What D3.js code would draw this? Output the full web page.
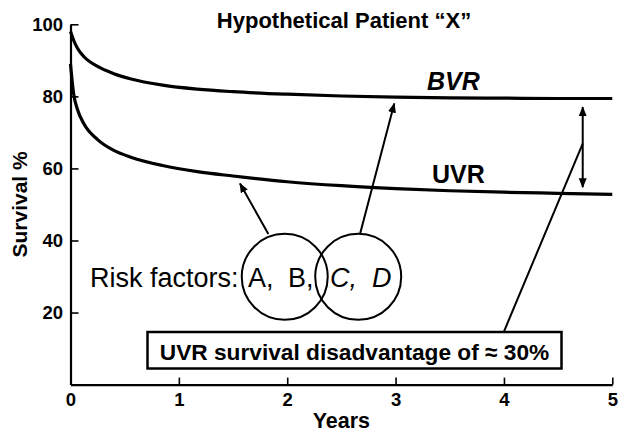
<!DOCTYPE html>
<html>
<head>
<meta charset="utf-8">
<script src="https://cdn.jsdelivr.net/npm/d3@7"></script>
<style>
  body { margin: 0; background: #fff; }
  svg { display: block; font-family: 'Liberation Sans', Arial, Helvetica, sans-serif; }
  .axis path, .axis line { stroke: #000; }
  .axis text { font-size: 18.5px; font-weight: bold; fill: #000; }
</style>
</head>
<body>
<div id="chart"></div>
<script>
// survival curves (years vs survival %)
const years = [0, 0.03, 0.063, 0.125, 0.25, 0.4, 0.55, 0.85, 1.17, 1.5, 2, 2.5, 3, 3.5, 4, 4.5, 5];
const bvr = [98, 95.5, 93.4, 91, 88.3, 86.3, 84.9, 83.1, 82, 81.3, 80.6, 80.1, 79.8, 79.6, 79.5, 79.4, 79.4];
const uvr = [89, 80.5, 76.5, 72.3, 68, 65, 63.2, 60.8, 59.1, 57.9, 56.3, 55.2, 54.4, 53.8, 53.4, 53.1, 52.8];

const xTicks = [0, 1, 2, 3, 4, 5];
const yTicks = [20, 40, 60, 80, 100];

const title = 'Hypothetical Patient \u201cX\u201d';
const xLabel = 'Years';
const yLabel = 'Survival %';
const boxLabel = 'UVR survival disadvantage of \u2248 30%';
const riskLabel = 'Risk factors:';
const riskA = ['A,', 'B,'];
const riskB = ['C,', 'D'];

const width = 619;
const height = 433;
const margin = { top: 24.3, right: 6.7, bottom: 48.4, left: 70.5 };

const svg = d3
  .select('#chart')
  .append('svg')
  .attr('width', width)
  .attr('height', height);

const x = d3
  .scaleLinear()
  .domain([0, 5])
  .range([margin.left, width - margin.right]);
const y = d3
  .scaleLinear()
  .domain([0, 100])
  .range([height - margin.bottom, margin.top]);

// arrow heads
const defs = svg.append('defs');
defs
  .append('marker')
  .attr('id', 'head')
  .attr('viewBox', '0 0 10 10')
  .attr('refX', 9)
  .attr('refY', 5)
  .attr('markerWidth', 10)
  .attr('markerHeight', 10)
  .attr('markerUnits', 'userSpaceOnUse')
  .attr('orient', 'auto-start-reverse')
  .append('path')
  .attr('d', 'M0,1 L10,5 L0,9 Z')
  .attr('fill', '#000');

// axes
const xAxis = svg
  .append('g')
  .attr('class', 'axis')
  .attr('transform', `translate(0,${y(0)})`)
  .call(
    d3.axisBottom(x)
      .tickValues(xTicks)
      .tickFormat(d3.format('d'))
      .tickSizeInner(-7)
      .tickSizeOuter(0)
      .tickPadding(8.5)
  );
xAxis.select('.domain').attr('stroke-width', 2.2);
xAxis.selectAll('.tick line').attr('stroke-width', 1.6);

const yAxis = svg
  .append('g')
  .attr('class', 'axis')
  .attr('transform', `translate(${x(0)},0)`)
  .call(
    d3.axisLeft(y)
      .tickValues(yTicks)
      .tickFormat(d3.format('d'))
      .tickSizeInner(-8)
      .tickSizeOuter(0)
      .tickPadding(7.5)
  );
yAxis.select('.domain').attr('stroke-width', 2.2);
yAxis.selectAll('.tick line').attr('stroke-width', 1.6);

// titles
svg
  .append('text')
  .attr('x', 344)
  .attr('y', 28)
  .attr('text-anchor', 'middle')
  .attr('font-size', 22)
  .attr('font-weight', 'bold')
  .text(title);

svg
  .append('text')
  .attr('x', (x(0) + x(5)) / 2)
  .attr('y', 428)
  .attr('text-anchor', 'middle')
  .attr('font-size', 21.5)
  .attr('font-weight', 'bold')
  .text(xLabel);

svg
  .append('text')
  .attr('transform', `translate(26.5,${(y(0) + y(100)) / 2}) rotate(-90)`)
  .attr('text-anchor', 'middle')
  .attr('font-size', 21)
  .attr('font-weight', 'bold')
  .text(yLabel);

// curves
const line = d3
  .line()
  .x((d, i) => x(years[i]))
  .y(d => y(d))
  .curve(d3.curveMonotoneX);

[bvr, uvr].forEach(series => {
  svg
    .append('path')
    .attr('d', line(series))
    .attr('fill', 'none')
    .attr('stroke', '#000')
    .attr('stroke-width', 3.2);
});

svg
  .append('text')
  .attr('x', 427)
  .attr('y', 90)
  .attr('font-size', 25)
  .attr('font-weight', 'bold')
  .attr('font-style', 'italic')
  .text('BVR');
svg
  .append('text')
  .attr('x', 432)
  .attr('y', 183)
  .attr('font-size', 25)
  .attr('font-weight', 'bold')
  .text('UVR');

// risk factor circles
const circles = [
  { cx: x(1.977), cy: y(29.9), r: 43 },
  { cx: x(2.655), cy: y(29.9), r: 43 }
];
svg
  .selectAll('circle.risk')
  .data(circles)
  .enter()
  .append('circle')
  .attr('class', 'risk')
  .attr('cx', d => d.cx)
  .attr('cy', d => d.cy)
  .attr('r', d => d.r)
  .attr('fill', 'none')
  .attr('stroke', '#000')
  .attr('stroke-width', 2);

const riskBase = 286.7;
svg
  .append('text')
  .attr('x', 90)
  .attr('y', riskBase)
  .attr('font-size', 27)
  .text(riskLabel);
svg
  .selectAll('text.ra')
  .data(riskA)
  .enter()
  .append('text')
  .attr('class', 'ra')
  .attr('x', (d, i) => [248, 288][i])
  .attr('y', riskBase)
  .attr('font-size', 27)
  .text(d => d);
svg
  .selectAll('text.rb')
  .data(riskB)
  .enter()
  .append('text')
  .attr('class', 'rb')
  .attr('x', (d, i) => [330, 372][i])
  .attr('y', riskBase)
  .attr('font-size', 27)
  .attr('font-style', 'italic')
  .text(d => d);

// pointer arrows: [from, to] in data units
const arrows = [
  [[1.826, 41.8], [1.564, 55.8]],
  [[2.672, 41.8], [2.988, 78]],
  [[4.0, 14.7], [4.727, 66.9], false]
];
arrows.forEach(a => {
  svg
    .append('line')
    .attr('x1', x(a[0][0]))
    .attr('y1', y(a[0][1]))
    .attr('x2', x(a[1][0]))
    .attr('y2', y(a[1][1]))
    .attr('stroke', '#000')
    .attr('stroke-width', 2)
    .attr('marker-end', a[2] === false ? null : 'url(#head)');
});

// double arrow between curves at ~4.7 years
svg
  .append('line')
  .attr('x1', x(4.727))
  .attr('x2', x(4.727))
  .attr('y1', y(77))
  .attr('y2', y(54.8))
  .attr('stroke', '#000')
  .attr('stroke-width', 2)
  .attr('marker-start', 'url(#head)')
  .attr('marker-end', 'url(#head)');

// disadvantage box
svg
  .append('rect')
  .attr('x', 147.5)
  .attr('y', 332)
  .attr('width', 414)
  .attr('height', 36.5)
  .attr('fill', '#fff')
  .attr('stroke', '#000')
  .attr('stroke-width', 2.5);
svg
  .append('text')
  .attr('x', 354.5)
  .attr('y', 360)
  .attr('text-anchor', 'middle')
  .attr('font-size', 22.7)
  .attr('font-weight', 'bold')
  .text(boxLabel);
</script>
</body>
</html>
